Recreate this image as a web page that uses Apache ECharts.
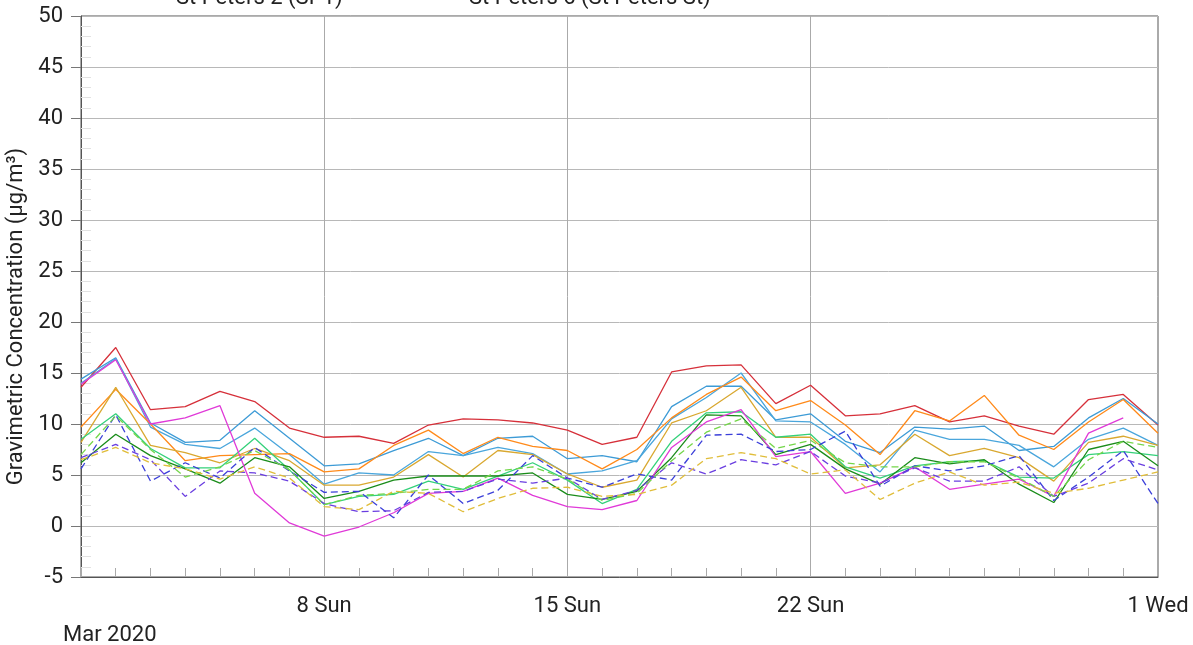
<!DOCTYPE html>
<html>
<head>
<meta charset="utf-8">
<script src="https://cdn.jsdelivr.net/npm/echarts@6/dist/echarts.min.js"></script>
<style>
  html, body { margin: 0; padding: 0; background: #fff; }
  #chart { width: 1193px; height: 645px; }
</style>
</head>
<body>
<div id="chart"></div>
<script>
// daily points, 1 Mar 2020 .. 1 Apr 2020
const days = ['03-01','03-02','03-03','03-04','03-05','03-06','03-07','03-08','03-09','03-10',
  '03-11','03-12','03-13','03-14','03-15','03-16','03-17','03-18','03-19','03-20','03-21',
  '03-22','03-23','03-24','03-25','03-26','03-27','03-28','03-29','03-30','03-31','04-01']

// labelled ticks on the time axis
const tickIndex = [7, 14, 21, 31]
const tickText = ['8 Sun', '15 Sun', '22 Sun', '1 Wed']

const names = ['St Peters 1', 'St Peters 2 (SP1)', 'St Peters 3', 'St Peters 4', 'St Peters 5',
  'St Peters 6 (St Peters St)', 'St Peters 7', 'St Peters 8', 'St Peters 9', 'St Peters 10',
  'St Peters 11', 'St Peters 12']

const red = [13.6, 17.5, 11.4, 11.7, 13.2, 12.2, 9.6, 8.7, 8.8, 8.1, 9.9, 10.5, 10.4, 10.1, 9.4, 8.0,
  8.7, 15.1, 15.7, 15.8, 12.0, 13.8, 10.8, 11.0, 11.8, 10.2, 10.8, 9.8, 9.0, 12.4, 12.9, 9.9]
const blueA = [14.4, 16.5, 10.1, 8.2, 8.4, 11.3, 8.6, 5.9, 6.1, 7.4, 8.6, 6.9, 8.6, 8.8, 6.6, 6.9,
  6.3, 11.7, 13.7, 13.7, 10.4, 11.0, 8.3, 7.2, 9.7, 9.5, 9.8, 7.4, 7.8, 10.6, 12.5, 10.0]
const blueB = [14.0, 16.4, 9.7, 8.0, 7.6, 9.6, 7.0, 4.1, 5.2, 5.0, 7.3, 6.9, 7.7, 7.1, 5.1, 5.4,
  6.4, 10.5, 12.6, 15.0, 10.3, 10.2, 8.0, 5.3, 9.4, 8.5, 8.5, 7.9, 5.8, 8.5, 9.6, 7.9]
const orange = [9.7, 13.4, 10.0, 6.4, 6.9, 7.0, 7.1, 5.3, 5.6, 7.9, 9.4, 7.1, 8.7, 7.8, 7.4, 5.6,
  7.5, 10.6, 12.9, 14.6, 11.3, 12.3, 9.9, 7.0, 11.3, 10.3, 12.8, 8.9, 7.5, 10.2, 12.4, 9.1]
const gold = [8.2, 13.6, 7.9, 7.2, 6.2, 7.6, 6.4, 4.0, 4.0, 4.8, 7.0, 4.8, 7.4, 7.0, 5.1, 3.8,
  4.5, 10.1, 11.3, 13.6, 8.7, 8.7, 5.7, 6.0, 9.0, 6.9, 7.6, 6.7, 4.4, 8.2, 8.8, 7.9]
const mint = [8.5, 11.0, 7.6, 5.7, 5.7, 8.6, 5.5, 2.1, 2.9, 3.1, 4.4, 3.6, 4.9, 6.2, 4.5, 2.2,
  3.6, 8.3, 11.1, 11.2, 8.7, 9.0, 5.8, 4.7, 5.9, 6.3, 6.4, 4.8, 4.7, 7.0, 7.3, 6.9]
const darkGreen = [6.2, 9.0, 6.9, 5.6, 4.2, 6.7, 5.8, 2.7, 3.4, 4.5, 4.9, 4.9, 4.9, 5.2, 3.1, 2.6,
  3.4, 6.7, 10.9, 10.8, 7.0, 8.0, 5.6, 4.1, 6.7, 6.1, 6.5, 4.1, 2.3, 7.5, 8.3, 5.9]
const magenta = [13.9, 16.3, 10.0, 10.6, 11.8, 3.2, 0.3, -1.0, -0.1, 1.3, 3.2, 3.4, 4.7, 3.0, 1.9, 1.6,
  2.5, 7.7, 10.2, 11.4, 6.8, 7.3, 3.2, 4.2, 5.8, 3.6, 4.1, 4.6, 2.9, 9.1, 10.6, null]
const limeDash = [7.0, 10.8, 7.5, 4.8, 5.8, 7.4, 5.5, 2.1, 3.0, 3.2, 3.6, 3.6, 5.4, 5.8, 4.6, 2.5,
  3.2, 6.4, 9.2, 10.5, 7.6, 8.4, 6.2, 5.8, 5.8, 6.3, 6.3, 4.7, 2.9, 6.5, 8.3, 7.7]
const blueDash = [5.6, 10.9, 4.4, 6.2, 4.7, 7.7, 5.4, 3.3, 3.4, 0.8, 5.0, 2.2, 3.5, 6.9, 4.7, 3.8,
  5.1, 4.5, 8.9, 9.0, 7.3, 7.5, 9.3, 3.9, 5.9, 5.4, 5.9, 6.9, 2.5, 4.8, 7.4, 2.2]
const purpleDash = [6.7, 8.0, 6.5, 2.9, 5.4, 5.2, 4.4, 2.2, 1.4, 1.5, 3.3, 3.4, 4.6, 4.2, 4.7, 2.6,
  3.5, 6.2, 5.1, 6.5, 6.0, 7.3, 4.9, 4.2, 5.7, 4.4, 4.4, 5.8, 2.9, 4.2, 6.6, 5.5]
const yellowDash = [6.5, 7.7, 6.2, 5.6, 4.6, 5.8, 4.7, 1.9, 1.6, 3.4, 3.2, 1.4, 2.7, 3.7, 3.8, 2.9,
  3.1, 4.0, 6.6, 7.2, 6.6, 5.1, 5.5, 2.6, 4.2, 5.3, 4.0, 4.3, 3.2, 3.7, 4.5, 5.3]

const seriesData = [red, blueA, blueB, orange, gold, mint, darkGreen, magenta, blueDash, purpleDash, limeDash, yellowDash]
const colors = ['#d6303a', '#3d9bd6', '#4aa6dc', '#ff8a1a', '#d9a830', '#34d17a', '#1a8c1a', '#e03ad8',
  '#3b3fd9', '#6a3ee0', '#74d64a', '#e0bd3a']
const dashed = [false, false, false, false, false, false, false, false, true, true, true, true]

const font = 'Roboto, "Liberation Sans", sans-serif'
const fs = 22
const chart = echarts.init(document.getElementById('chart'))

const isTick = (i) => tickIndex.indexOf(i) >= 0
const legendBox = (name, left) => ({
  data: [name], left: left, top: -18, selectedMode: false, itemWidth: 20, itemGap: 0,
  itemStyle: { opacity: 0 }, lineStyle: { opacity: 0 },
  textStyle: { fontFamily: font, fontSize: fs, color: '#222' }
})

const option = {
  animation: false,
  grid: { left: 81, right: 35, top: 16, bottom: 68, show: true, borderColor: '#555', borderWidth: 1, outerBoundsMode: 'none' },
  legend: [legendBox(names[1], 145), legendBox(names[5], 438)],
  graphic: [
    { type: 'text', left: 63, top: 624, style: { text: 'Mar 2020', fontFamily: font, fontSize: fs, fill: '#222' } }
  ],
  xAxis: {
    type: 'category', data: days, boundaryGap: false,
    axisLine: { onZero: false, lineStyle: { color: '#555' } },
    // daily ticks pointing into the plot
    axisTick: { show: true, inside: true, length: 9, interval: 0, lineStyle: { color: '#aaa' } },
    axisLabel: {
      interval: (i) => isTick(i), margin: 18, fontFamily: font, fontSize: fs, color: '#222',
      formatter: (v, i) => tickText[tickIndex.indexOf(i)] || ''
    },
    splitLine: { show: true, interval: (i) => isTick(i), lineStyle: { color: '#aaa' } }
  },
  yAxis: [
    {
      type: 'value', min: -5, max: 50, interval: 5,
      name: 'Gravimetric Concentration (µg/m³)', nameLocation: 'middle', nameGap: 54,
      nameTextStyle: { fontFamily: font, fontSize: fs, color: '#222', padding: [0, 40, 0, 0] },
      axisLine: { show: true, lineStyle: { color: '#555' } },
      axisTick: { show: true, length: 10, lineStyle: { color: '#777' } },
      axisLabel: { margin: 18, fontFamily: font, fontSize: fs, color: '#222' },
      splitLine: { show: true, lineStyle: { color: '#b8b8b8' } }
    },
    {
      type: 'value', min: -5, max: 50, interval: 5, position: 'left',
      axisLine: { show: false },
      axisTick: { show: false, inside: true },
      minorTick: { show: true, splitNumber: 5, length: 10, lineStyle: { color: '#e2e2e2' } },
      axisLabel: { show: false },
      splitLine: { show: false }
    }
  ],
  series: seriesData.map((d, k) => ({
    name: names[k],
    type: 'line',
    data: d,
    yAxisIndex: 0,
    showSymbol: false,
    symbol: 'none',
    color: colors[k],
    lineStyle: { width: 1.3, color: colors[k], type: dashed[k] ? [7, 4] : 'solid' }
  }))
}

chart.setOption(option)
</script>
</body>
</html>
